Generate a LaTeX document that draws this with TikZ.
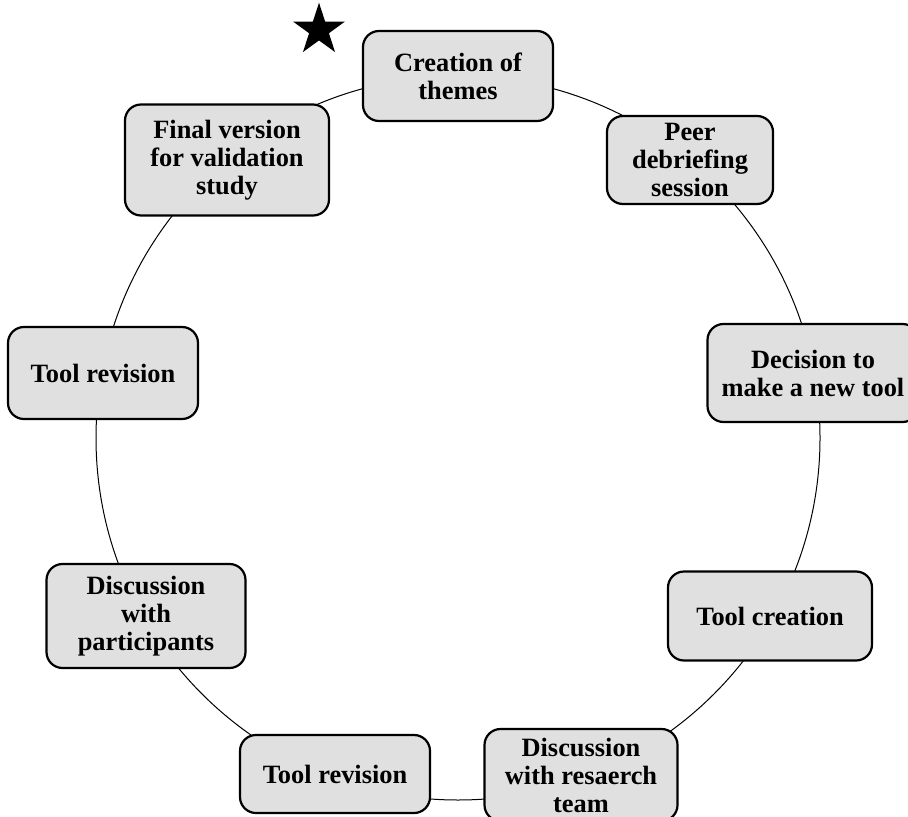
\documentclass[tikz,border=0pt]{standalone}
\usepackage{fontspec}
\setmainfont{Liberation Serif}
\usetikzlibrary{shapes.geometric}
\definecolor{boxgray}{HTML}{E0E0E0}
\tikzset{stage/.style={draw, line width=1.1pt, rounded corners=8pt, fill=boxgray, align=center, inner sep=2pt,
  font=\fontsize{13.2}{14}\selectfont\bfseries}}
\newcommand{\st}[5]{\node[stage, minimum width=#3*0.5pt, minimum height=#4*0.5pt] (#1) at (#2) {#5};}

\begin{document}
\begin{tikzpicture}[x=0.5pt,y=-0.5pt]
  \useasboundingbox (0,0) rectangle (908,817);
  \node[draw, circle, line width=0.5pt, minimum size=362pt, inner sep=0pt] (ring) at (458,438) {};
  \st{themes}{458,76}{190}{90}{Creation of\\themes}
  \st{peer}{690,160}{166}{88}{Peer\\debriefing\\session}
  \st{decide}{813,373}{211}{98}{Decision to\\make a new tool}
  \st{create}{770,616}{204}{89}{Tool creation}
  \st{team}{581,775}{193}{92}{Discussion\\with resaerch\\team}
  \st{revB}{335,774}{190}{78}{Tool revision}
  \st{partic}{146,616}{199}{104}{Discussion\\with\\participants}
  \st{revL}{103,373}{190}{92}{Tool revision}
  \st{final}{227,160}{204}{111}{Final version\\for validation\\study}
  \node[star, star points=5, star point ratio=2.618, fill=black, minimum size=27.3pt, inner sep=0pt] (startmark) at (319,30) {};
\end{tikzpicture}
\end{document}
